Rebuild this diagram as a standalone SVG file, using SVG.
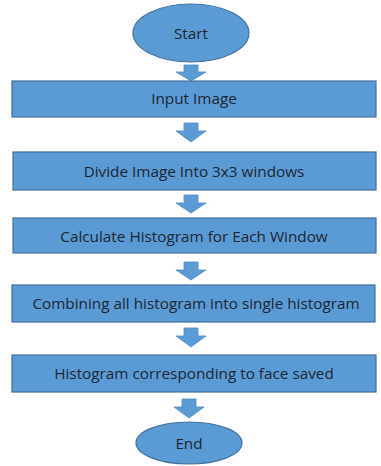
<svg xmlns="http://www.w3.org/2000/svg" width="381" height="466" viewBox="0 0 381 466">
  <style>
    .shape { fill: #5b9bd5; stroke: #41719c; stroke-width: 1.2; }
    .arrow { fill: #5b9bd5; stroke: #4f8cc4; stroke-width: 0.8; }
    .label { font-family: "Open Sans", "Liberation Sans", sans-serif; font-size: 15.3px; fill: #1b2633; text-anchor: middle; dominant-baseline: central; }
  </style>
  <rect width="381" height="466" fill="#ffffff"/>

  <!-- block arrows between steps -->
  <g id="connectors">
    <path class="arrow" d="M184,65 H198 V72 H206 L191,81 L176,72 H184 Z"/>
    <path class="arrow" d="M184,123 H198 V131 H206 L191,142 L176,131 H184 Z"/>
    <path class="arrow" d="M184,195 H198 V203 H206 L191,213 L176,203 H184 Z"/>
    <path class="arrow" d="M184,262 H198 V270 H206 L191,280 L176,270 H184 Z"/>
    <path class="arrow" d="M184,328 H198 V336 H206 L191,347 L176,336 H184 Z"/>
    <path class="arrow" d="M182,399 H196 V407 H204 L189,418 L174,407 H182 Z"/>
  </g>

  <g id="start">
    <ellipse class="shape" cx="191" cy="33" rx="58" ry="29"/>
    <text class="label" x="191" y="33">Start</text>
  </g>

  <g id="input-image">
    <rect class="shape" x="12" y="81" width="364" height="36"/>
    <text class="label" x="194" y="98">Input Image</text>
  </g>

  <g id="divide-image">
    <rect class="shape" x="13" y="152" width="363" height="38"/>
    <text class="label" x="194" y="171">Divide Image Into 3x3 windows</text>
  </g>

  <g id="calculate-histogram">
    <rect class="shape" x="13" y="218" width="363" height="35"/>
    <text class="label" x="194" y="236">Calculate Histogram for Each Window</text>
  </g>

  <g id="combine-histograms">
    <rect class="shape" x="12" y="285" width="363" height="37"/>
    <text class="label" x="196" y="303">Combining all histogram into single histogram</text>
  </g>

  <g id="save-histogram">
    <rect class="shape" x="12" y="355" width="364" height="37"/>
    <text class="label" x="194" y="373">Histogram corresponding to face saved</text>
  </g>

  <g id="end">
    <ellipse class="shape" cx="189" cy="443" rx="53" ry="21"/>
    <text class="label" x="189" y="443">End</text>
  </g>
</svg>
